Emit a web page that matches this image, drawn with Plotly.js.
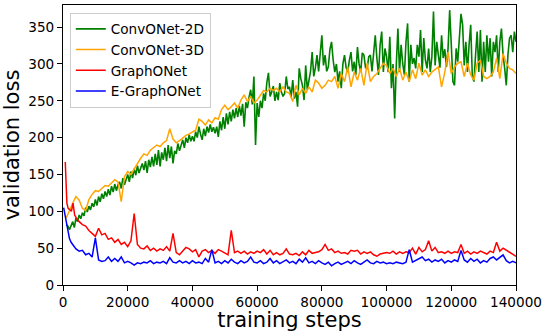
<!DOCTYPE html>
<html>
<head>
<meta charset="utf-8">
<script src="https://cdn.plot.ly/plotly-3.0.1.min.js"></script>
<style>
html,body{margin:0;padding:0;background:#fff;}
#chart{width:543px;height:332px;}
</style>
</head>
<body>
<div id="chart"></div>
<script>
// ---- data ----
const seriesNames = ["ConvONet-2D", "ConvONet-3D", "GraphONet", "E-GraphONet"];

// ConvONet-2D: evaluated every 500 steps from 1000 to 140000
const conv2dStart = 1000, conv2dEvery = 500;
const conv2dLoss = [
  82,80,75,80,86,78,91,86,95,90,
  98,94,105,99,107,102,111,106,116,108,
  120,113,124,117,127,120,130,122,134,126,
  137,128,136,140,131,145,136,143,150,140,
  154,145,158,149,162,152,159,165,156,168,
  152,170,160,174,161,178,163,183,161,180,
  170,186,168,190,172,188,165,182,178,192,
  182,190,197,186,200,193,204,195,202,195,
  208,200,215,205,197,212,202,215,207,218,
  208,214,206,215,201,222,210,228,212,233,
  218,235,222,238,226,240,228,243,230,246,
  215,248,240,255,265,245,283,190,247,228,
  250,240,260,250,275,288,256,262,270,250,
  262,251,274,262,256,260,283,266,269,255,
  278,253,262,242,294,280,271,251,298,265,
  276,290,316,283,295,312,290,320,339,298,
  312,290,296,320,330,305,289,300,276,290,
  267,300,312,295,289,305,316,290,303,285,
  323,300,289,315,312,295,294,310,312,290,
  310,339,308,285,326,344,289,321,310,289,
  337,267,300,226,298,348,289,326,300,285,
  330,355,276,326,300,308,294,326,310,346,
  289,335,305,294,321,289,310,371,298,330,
  312,295,339,308,320,296,321,373,326,276,
  271,321,303,339,368,353,298,330,289,326,
  353,283,276,312,344,289,346,276,330,289,
  339,303,335,283,330,316,339,289,330,348,
  312,294,271,312,335,339,316,344,330
];

// ConvONet-3D: evaluated every 1000 steps from 1000 to 140000
const conv3dStart = 1000, conv3dEvery = 1000;
const conv3dLoss = [
  91,102,111,120,115,104,101,116,123,128,
  127,131,135,134,139,143,140,113,147,154,
  150,158,166,172,178,176,183,186,190,188,
  193,196,212,198,193,196,200,203,205,207,
  210,225,222,217,224,220,227,225,238,244,
  238,242,247,240,251,258,249,256,247,251,
  258,264,262,267,264,267,262,269,262,260,
  249,271,258,267,260,269,262,278,274,267,
  271,278,276,283,267,287,276,296,269,289,
  278,294,271,301,276,283,287,294,301,298,
  287,294,283,294,278,289,276,292,280,301,
  285,292,283,289,292,296,269,289,316,287,
  296,301,303,283,301,285,278,301,305,283,
  280,283,289,308,280,314,301,294,292,287
];

// GraphONet: early evaluations, then every 1000 steps from 5000 to 140000
const graphHeadSteps = [700, 1200, 1600, 2100, 2600, 3100, 3600, 4100, 4600];
const graphHeadLoss  = [167, 111, 104, 102, 100, 111, 95, 91, 88];
const graphStart = 5000, graphEvery = 1000;
const graphLoss = [
  86,82,80,74,70,66,77,68,70,62,
  64,58,62,55,58,52,60,97,55,50,
  49,53,47,50,46,49,47,52,46,70,
  44,41,46,51,49,45,48,38,46,48,
  44,47,43,48,46,44,41,74,44,46,
  43,46,42,45,43,46,44,48,42,47,
  41,44,41,43,49,42,41,43,40,45,
  41,47,43,44,45,48,55,47,49,44,
  46,43,44,42,47,46,47,42,45,43,
  45,41,39,42,43,44,43,46,42,45,
  43,45,44,50,42,51,45,48,60,46,
  51,44,45,43,46,43,45,44,55,43,
  46,42,45,43,46,44,42,46,44,58,
  46,50,47,44,41,39
];

// E-GraphONet: early evaluations, then every 1000 steps from 5000 to 140000
const egraphHeadSteps = [200, 1000, 1500, 2000, 2500, 3000, 3500, 4000];
const egraphHeadLoss  = [105, 84, 75, 63, 58, 55, 51, 49];
const egraphStart = 5000, egraphEvery = 1000;
const egraphLoss = [
  46,47,41,43,38,64,34,32,33,38,
  32,36,32,38,30,32,30,27,30,29,
  31,30,33,29,31,30,32,29,37,31,
  30,33,30,32,29,33,30,31,29,36,
  31,48,30,32,29,33,30,35,31,29,
  33,30,32,38,31,30,33,29,31,36,
  30,33,29,31,34,30,32,29,35,31,
  37,30,32,29,33,30,28,31,26,29,
  31,28,30,32,29,33,30,28,31,34,
  30,29,32,30,31,29,30,29,31,30,
  29,31,48,31,33,36,38,33,35,31,
  34,32,35,30,33,31,34,32,47,34,
  31,36,32,35,30,33,31,36,38,34,
  37,41,33,30,32,30
];

const xTickVals = [0, 20000, 40000, 60000, 80000, 100000, 120000, 140000];
const yTickVals = [0, 50, 100, 150, 200, 250, 300, 350];

// ---- build step arrays (evaluation schedule) ----
function schedule(start, every, n) {
  const s = [];
  for (let i = 0; i < n; i++) s.push(start + i * every);
  return s;
}
const conv2dSteps = schedule(conv2dStart, conv2dEvery, conv2dLoss.length);
const conv3dSteps = schedule(conv3dStart, conv3dEvery, conv3dLoss.length);
const graphSteps = graphHeadSteps.concat(schedule(graphStart, graphEvery, graphLoss.length));
const graphAll = graphHeadLoss.concat(graphLoss);
const egraphSteps = egraphHeadSteps.concat(schedule(egraphStart, egraphEvery, egraphLoss.length));
const egraphAll = egraphHeadLoss.concat(egraphLoss);

const FONT = "DejaVu Sans, sans-serif";
const traces = [
  {x: conv2dSteps, y: conv2dLoss, name: seriesNames[0], line: {color: "#008000", width: 1.6}},
  {x: conv3dSteps, y: conv3dLoss, name: seriesNames[1], line: {color: "#FFA500", width: 1.5}},
  {x: graphSteps, y: graphAll, name: seriesNames[2], line: {color: "#FF0000", width: 1.5}},
  {x: egraphSteps, y: egraphAll, name: seriesNames[3], line: {color: "#0000FF", width: 1.5}}
].map(t => Object.assign({type: "scatter", mode: "lines", hoverinfo: "skip"}, t));

const layout = {
  width: 543, height: 332,
  margin: {l: 63, r: 27, t: 5, b: 47, pad: 0},
  paper_bgcolor: "#fff", plot_bgcolor: "#fff",
  font: {family: FONT, color: "#000", size: 13.6},
  showlegend: true,
  legend: {
    x: 0.015, y: 0.973, xanchor: "left", yanchor: "top",
    bgcolor: "rgba(255,255,255,0.85)", bordercolor: "#cccccc", borderwidth: 1,
    font: {family: FONT, size: 13.6, color: "#000"},
    tracegroupgap: 0
  },
  xaxis: {
    range: [0, 140000], tickvals: xTickVals, tickformat: "d",
    showgrid: false, zeroline: false,
    showline: true, mirror: true, linecolor: "#000", linewidth: 1,
    ticks: "outside", ticklen: 5, tickwidth: 1, tickcolor: "#000",
    tickfont: {family: FONT, size: 13.6},
    title: {text: "training steps", font: {family: FONT, size: 21}, standoff: 9}
  },
  yaxis: {
    range: [0, 380], tickvals: yTickVals,
    showgrid: false, zeroline: false,
    showline: true, mirror: true, linecolor: "#000", linewidth: 1,
    ticks: "outside", ticklen: 5, tickwidth: 1, tickcolor: "#000",
    tickfont: {family: FONT, size: 13.6},
    title: {text: "validation loss", font: {family: FONT, size: 21}, standoff: 3}
  }
};

Plotly.newPlot("chart", traces, layout, {displayModeBar: false, staticPlot: true});
</script>
</body>
</html>
